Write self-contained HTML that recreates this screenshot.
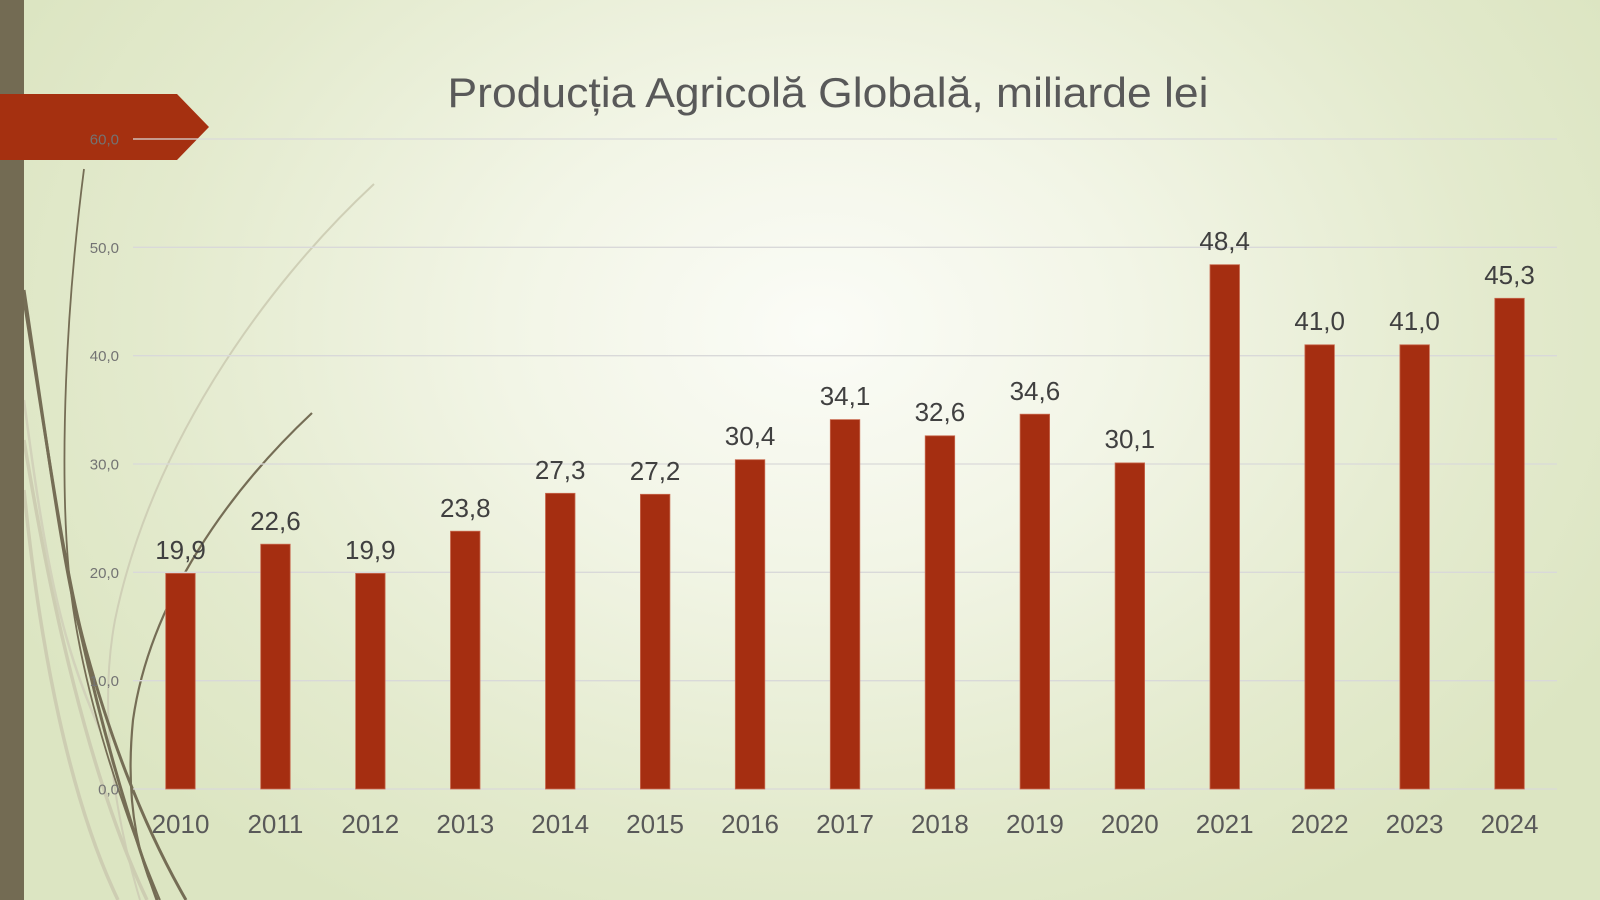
<!DOCTYPE html>
<html>
<head>
<meta charset="utf-8">
<style>
html,body{margin:0;padding:0;width:1600px;height:900px;overflow:hidden;}
body{background:#E0E8C8;}
svg{display:block;}
</style>
</head>
<body>
<svg width="1600" height="900" viewBox="0 0 1600 900" xmlns="http://www.w3.org/2000/svg">
  <defs>
    <radialGradient id="bg" cx="820" cy="330" r="900" gradientUnits="userSpaceOnUse" gradientTransform="translate(820 330) scale(1 0.75) translate(-820 -330)">
      <stop offset="0" stop-color="#FBFCF7"/>
      <stop offset="0.35" stop-color="#F2F5E6"/>
      <stop offset="0.75" stop-color="#E3EACD"/>
      <stop offset="1" stop-color="#DCE5C2"/>
    </radialGradient>
  </defs>
  <rect x="0" y="0" width="1600" height="900" fill="url(#bg)"/>

  <!-- decorative curves -->
  <g fill="none" stroke-linecap="butt">
    <path d="M374,184 C260,290 150,450 115,620 C100,700 110,800 140,900" stroke="#CFCFB6" stroke-width="2"/>
    <path d="M24,440 C50,600 90,780 147,900" stroke="#CDCDB2" stroke-width="3.5"/>
    <path d="M24,490 C40,650 70,800 118,900" stroke="#CDCDB2" stroke-width="3.5"/>
    <path d="M24,400 C45,560 60,640 100,730" stroke="#D2D2BA" stroke-width="2.5"/>
    <path d="M84,169 C62,340 58,520 75,620 C88,700 118,800 160,900" stroke="#756D55" stroke-width="1.8"/>
    <path d="M24,290 C45,430 62,560 80,630 C100,720 125,810 157,900" stroke="#756D55" stroke-width="3"/>
    <path d="M24,300 C48,450 66,580 86,650 C108,730 140,820 186,900" stroke="#756D55" stroke-width="3"/>
    <path d="M312,413 C230,490 150,600 133,720 C126,790 134,850 158,900" stroke="#756D55" stroke-width="2.2"/>
  </g>

  <!-- left bar -->
  <rect x="0" y="0" width="24" height="900" fill="#736B53"/>

  <!-- banner -->
  <polygon points="0,94 177,94 209,127 177,160 0,160" fill="#A53010"/>

  <!-- gridlines -->
  <g stroke="#D9D9D9" stroke-width="1.3">
    <line x1="133" y1="139" x2="1557" y2="139"/>
    <line x1="133" y1="247.3" x2="1557" y2="247.3"/>
    <line x1="133" y1="355.7" x2="1557" y2="355.7"/>
    <line x1="133" y1="464" x2="1557" y2="464"/>
    <line x1="133" y1="572.3" x2="1557" y2="572.3"/>
    <line x1="133" y1="680.7" x2="1557" y2="680.7"/>
    <line x1="133" y1="789" x2="1557" y2="789"/>
  </g>

  <!-- y tick labels -->
  <g font-family="Liberation Sans, sans-serif" font-size="15" fill="#737373" text-anchor="end">
    <text x="119" y="144.5">60,0</text>
    <text x="119" y="252.8">50,0</text>
    <text x="119" y="361.2">40,0</text>
    <text x="119" y="469.5">30,0</text>
    <text x="119" y="577.8">20,0</text>
    <text x="119" y="686.2">10,0</text>
    <text x="119" y="794.5">0,0</text>
  </g>

  <!-- title -->
  <text x="828" y="107" font-family="Liberation Sans, sans-serif" font-size="42" fill="#595959" text-anchor="middle" textLength="761" lengthAdjust="spacingAndGlyphs">Producția Agricolă Globală, miliarde lei</text>

  <!-- bars -->
  <g fill="#A52E11" stroke="#C8694F" stroke-width="0.8">
    <rect x="165.7" y="573.4" width="29.5" height="215.6"/>
    <rect x="260.7" y="544.2" width="29.5" height="244.8"/>
    <rect x="355.6" y="573.4" width="29.5" height="215.6"/>
    <rect x="450.5" y="531.2" width="29.5" height="257.8"/>
    <rect x="545.5" y="493.3" width="29.5" height="295.7"/>
    <rect x="640.4" y="494.3" width="29.5" height="294.7"/>
    <rect x="735.3" y="459.7" width="29.5" height="329.3"/>
    <rect x="830.3" y="419.6" width="29.5" height="369.4"/>
    <rect x="925.2" y="435.8" width="29.5" height="353.2"/>
    <rect x="1020.1" y="414.2" width="29.5" height="374.8"/>
    <rect x="1115.1" y="462.9" width="29.5" height="326.1"/>
    <rect x="1210.0" y="264.7" width="29.5" height="524.3"/>
    <rect x="1304.9" y="344.8" width="29.5" height="444.2"/>
    <rect x="1399.9" y="344.8" width="29.5" height="444.2"/>
    <rect x="1494.8" y="298.3" width="29.5" height="490.7"/>
  </g>

  <!-- data labels -->
  <g font-family="Liberation Sans, sans-serif" font-size="26" fill="#404040" text-anchor="middle">
    <text x="180.5" y="559">19,9</text>
    <text x="275.4" y="530">22,6</text>
    <text x="370.3" y="559">19,9</text>
    <text x="465.3" y="517">23,8</text>
    <text x="560.2" y="479">27,3</text>
    <text x="655.1" y="480">27,2</text>
    <text x="750.1" y="445">30,4</text>
    <text x="845.0" y="405">34,1</text>
    <text x="939.9" y="421">32,6</text>
    <text x="1034.9" y="400">34,6</text>
    <text x="1129.8" y="448">30,1</text>
    <text x="1224.7" y="250">48,4</text>
    <text x="1319.7" y="330">41,0</text>
    <text x="1414.6" y="330">41,0</text>
    <text x="1509.5" y="284">45,3</text>
  </g>

  <!-- category labels -->
  <g font-family="Liberation Sans, sans-serif" font-size="26" fill="#595959" text-anchor="middle">
    <text x="180.5" y="833">2010</text>
    <text x="275.4" y="833">2011</text>
    <text x="370.3" y="833">2012</text>
    <text x="465.3" y="833">2013</text>
    <text x="560.2" y="833">2014</text>
    <text x="655.1" y="833">2015</text>
    <text x="750.1" y="833">2016</text>
    <text x="845.0" y="833">2017</text>
    <text x="939.9" y="833">2018</text>
    <text x="1034.9" y="833">2019</text>
    <text x="1129.8" y="833">2020</text>
    <text x="1224.7" y="833">2021</text>
    <text x="1319.7" y="833">2022</text>
    <text x="1414.6" y="833">2023</text>
    <text x="1509.5" y="833">2024</text>
  </g>
</svg>
</body>
</html>
